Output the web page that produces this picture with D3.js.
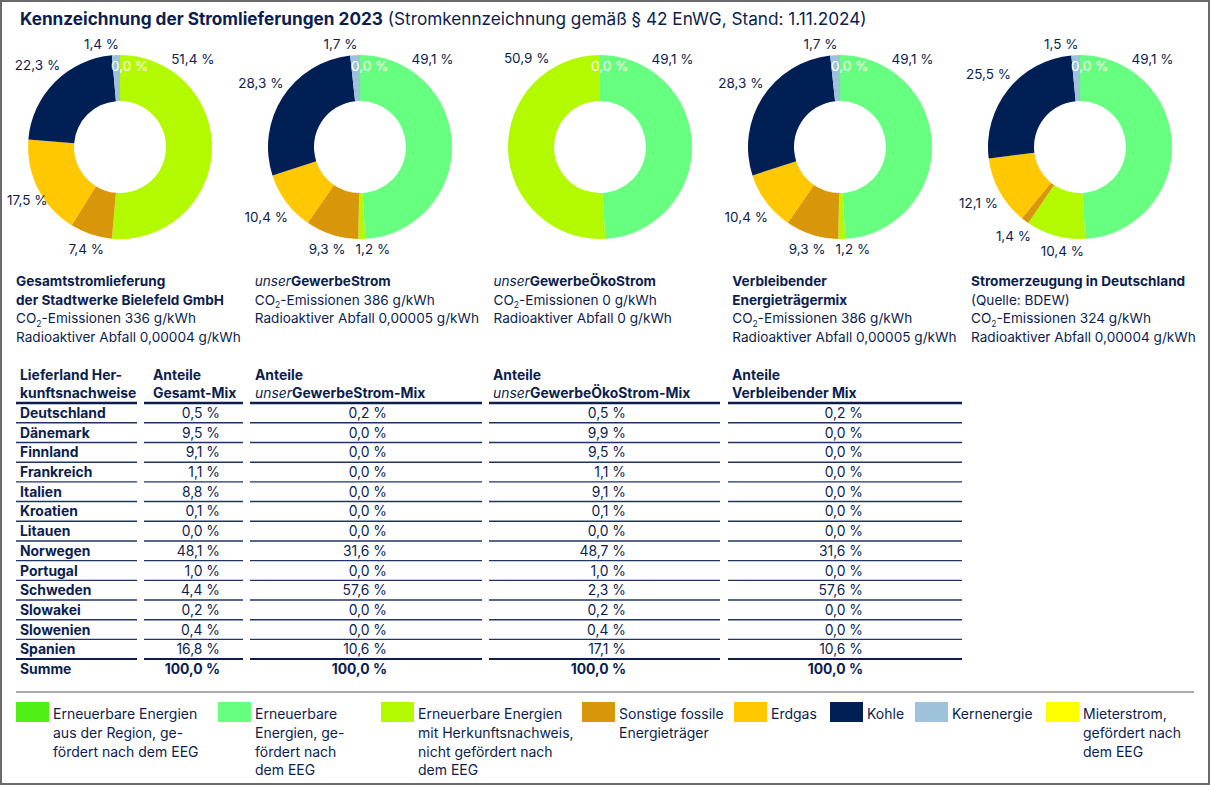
<!DOCTYPE html>
<html><head><meta charset="utf-8">
<script src="https://cdn.jsdelivr.net/npm/d3@7"></script>
<style>
html,body{margin:0;padding:0;background:#fff;}
svg{display:block;font-family:Inter,"Noto Sans",sans-serif;}
</style></head><body>
<svg id="chart" width="1210" height="785"></svg>
<script>
// ---------------- DATA ----------------
const categories = [
  "Erneuerbare Energien aus der Region, gefördert nach dem EEG",
  "Erneuerbare Energien, gefördert nach dem EEG",
  "Erneuerbare Energien mit Herkunftsnachweis, nicht gefördert nach dem EEG",
  "Sonstige fossile Energieträger",
  "Erdgas",
  "Kohle",
  "Kernenergie",
  "Mieterstrom, gefördert nach dem EEG"
];
const categoryColors = ["#50F014","#66FF7F","#B3FA00","#D8960A","#FFC800","#001F55","#9FC2DB","#FFFF00"];
const legendLines = [
  ["Erneuerbare Energien","aus der Region, ge-","fördert nach dem EEG"],
  ["Erneuerbare","Energien, ge-","fördert nach","dem EEG"],
  ["Erneuerbare Energien","mit Herkunftsnachweis,","nicht gefördert nach","dem EEG"],
  ["Sonstige fossile","Energieträger"],
  ["Erdgas"],
  ["Kohle"],
  ["Kernenergie"],
  ["Mieterstrom,","gefördert nach","dem EEG"]
];

// donut values (%), order = categories
const mixGesamt       = [0, 0,    51.4, 7.4, 17.5, 22.3, 1.4, 0];
const mixGewerbe      = [0, 49.1, 1.2,  9.3, 10.4, 28.3, 1.7, 0];
const mixOeko         = [0, 49.1, 50.9, 0,   0,    0,    0,   0];
const mixVerbleibend  = [0, 49.1, 1.2,  9.3, 10.4, 28.3, 1.7, 0];
const mixDeutschland  = [0, 49.1, 10.4, 1.4, 12.1, 25.5, 1.5, 0];
const mixes = [mixGesamt, mixGewerbe, mixOeko, mixVerbleibend, mixDeutschland];

// captions under donuts
const captionHeads = [
  [[{t:"Gesamtstromlieferung",s:"b"}],[{t:"der Stadtwerke Bielefeld GmbH",s:"b"}]],
  [[{t:"unser",s:"i"},{t:"GewerbeStrom",s:"b"}]],
  [[{t:"unser",s:"i"},{t:"GewerbeÖkoStrom",s:"b"}]],
  [[{t:"Verbleibender",s:"b"}],[{t:"Energieträgermix",s:"b"}]],
  [[{t:"Stromerzeugung in Deutschland",s:"b"}],[{t:"(Quelle: BDEW)",s:"r"}]]
];
const co2Emissions = ["336","386","0","386","324"];
const radioactiveWaste = ["0,00004","0,00005","0","0,00005","0,00004"];

// table
const countries = ["Deutschland","Dänemark","Finnland","Frankreich","Italien","Kroatien","Litauen","Norwegen","Portugal","Schweden","Slowakei","Slowenien","Spanien"];
const shareGesamt      = [0.5, 9.5, 9.1, 1.1, 8.8, 0.1, 0.0, 48.1, 1.0, 4.4, 0.2, 0.4, 16.8];
const shareGewerbe     = [0.2, 0.0, 0.0, 0.0, 0.0, 0.0, 0.0, 31.6, 0.0, 57.6, 0.0, 0.0, 10.6];
const shareOeko        = [0.5, 9.9, 9.5, 1.1, 9.1, 0.1, 0.0, 48.7, 1.0, 2.3, 0.2, 0.4, 17.1];
const shareVerbleibend = [0.2, 0.0, 0.0, 0.0, 0.0, 0.0, 0.0, 31.6, 0.0, 57.6, 0.0, 0.0, 10.6];
const shareSums        = [100.0, 100.0, 100.0, 100.0];
const sumLabel = "Summe";
const tableHeads = [
  [[{t:"Lieferland Her-",s:"b"}],[{t:"kunftsnachweise",s:"b"}]],
  [[{t:"Anteile",s:"b"}],[{t:"Gesamt-Mix",s:"b"}]],
  [[{t:"Anteile",s:"b"}],[{t:"unser",s:"i"},{t:"GewerbeStrom-Mix",s:"b"}]],
  [[{t:"Anteile",s:"b"}],[{t:"unser",s:"i"},{t:"GewerbeÖkoStrom-Mix",s:"b"}]],
  [[{t:"Anteile",s:"b"}],[{t:"Verbleibender Mix",s:"b"}]]
];

// ---------------- LAYOUT ----------------
const W = 1210, H = 785;
const NAVY = "#0c1e4e";
const loc = d3.formatLocale({decimal:",", thousands:".", grouping:[3], currency:["","€"]});
const fmt = v => loc.format(".1f")(v) + " %";

const svg = d3.select("#chart");
svg.append("rect").attr("x",1).attr("y",1).attr("width",W-2).attr("height",H-2)
  .attr("fill","#fff").attr("stroke","#6a6a6a").attr("stroke-width",2);

function addSegs(textSel, segs){
  segs.forEach(s=>{
    const t = textSel.append("tspan").text(s.t);
    if (s.s==="b") t.attr("font-weight",700);
    if (s.s==="i") t.attr("font-style","italic");
  });
}

// title
const title = svg.append("text").attr("x",20).attr("y",24.5).attr("fill",NAVY).attr("font-size",17.2);
title.append("tspan").attr("font-weight",700).text("Kennzeichnung der Stromlieferungen 2023");
title.append("tspan").text(" (Stromkennzeichnung gemäß § 42 EnWG, Stand: 1.11.2024)");

// donuts
const donutX = d3.scaleLinear().domain([0,4]).range([120,1080]);
const captionX = d3.scaleLinear().domain([0,4]).range([16,971]);
const cy = 147, rOut = 92, rIn = 46;
const pie = d3.pie().sort(null).value(d=>d.v).startAngle(0).endAngle(2*Math.PI);
const arc = d3.arc().innerRadius(rIn).outerRadius(rOut);

mixes.forEach((mix, mi)=>{
  const cx = donutX(mi);
  const g = svg.append("g").attr("transform",`translate(${cx},${cy})`);
  const arcs = pie(mix.map((v,i)=>({v, i})));
  g.selectAll("path").data(arcs.filter(a=>a.data.v>0)).join("path")
    .attr("d",arc).attr("fill",a=>categoryColors[a.data.i]);
  // labels
  arcs.forEach(a=>{
    const v = a.data.v;
    if (v<=0 && a.data.i!==0) return;
    const t = g.append("text").attr("dy","0.36em")
      .attr("text-anchor","middle").attr("font-size",13.5).text(fmt(v));
    if (v<=0){
      const ang = a.startAngle + 0.12, R = 81;
      t.attr("fill","#ffffff").attr("x",R*Math.sin(ang)).attr("y",-R*Math.cos(ang));
      return;
    }
    let ang = (a.startAngle + a.endAngle)/2;
    if (v >= 40){
      if (a.startAngle < 1e-6) ang = 0.69;
      else if (a.endAngle > 2*Math.PI - 1e-6) ang = 2*Math.PI - 0.69;
    }
    const w = t.node().getComputedTextLength(), h = 12;
    const ux = Math.sin(ang), uy = -Math.cos(ang);
    const d = rOut + 4 + Math.abs(ux)*w/2 + Math.abs(uy)*h/2;
    let x = d*ux, y = d*uy;
    if (v<15){
      if (Math.abs(ux)<0.15 && uy<0) x -= 14;
      if (Math.abs(ux)<0.29 && uy>0) x += 11;
    }
    // keep inside the frame
    if (cx + x - w/2 < 7) x = 7 + w/2 - cx;
    if (cx + x + w/2 > W - 7) x = W - 7 - w/2 - cx;
    t.attr("fill",NAVY).attr("x",x).attr("y",y);
  });

  // caption
  const tx = captionX(mi);
  const lines = captionHeads[mi].map(l=>({segs:l}));
  lines.push({co2:co2Emissions[mi]});
  lines.push({segs:[{t:`Radioaktiver Abfall ${radioactiveWaste[mi]} g/kWh`,s:"r"}]});
  lines.forEach((ln, li)=>{
    const t = svg.append("text").attr("x",tx).attr("y",286 + li*18.7).attr("fill",NAVY).attr("font-size",13.6);
    if (ln.segs) addSegs(t, ln.segs);
    else {
      t.append("tspan").text("CO");
      t.append("tspan").attr("font-size",8.5).attr("dy",3.5).text("2");
      t.append("tspan").attr("dy",-3.5).text(`-Emissionen ${ln.co2} g/kWh`);
    }
  });
});

// table
const cols = [
  {x0:16, x1:137, tx:20},
  {x0:144, x1:243, tx:153, vx:220},
  {x0:250, x1:482, tx:255, vx:387},
  {x0:489, x1:720, tx:493, vx:626},
  {x0:728, x1:962, tx:732, vx:863}
];
const shares = [shareGesamt, shareGewerbe, shareOeko, shareVerbleibend];
const rowNames = countries.concat([sumLabel]);
const rowY = d3.scaleLinear().domain([0,rowNames.length-1]).range([413,669]);
const tbl = svg.append("g").attr("font-size",13.9).attr("fill",NAVY);

tableHeads.forEach((h,ci)=>{
  h.forEach((ln,li)=>{
    const t = tbl.append("text").attr("x",cols[ci].tx).attr("y",380+li*18.3);
    addSegs(t, ln);
  });
  tbl.append("line").attr("x1",cols[ci].x0).attr("x2",cols[ci].x1).attr("y1",403).attr("y2",403)
    .attr("stroke",NAVY).attr("stroke-width",2.4);
});

rowNames.forEach((name,ri)=>{
  const y = rowY(ri);
  const isSum = ri===rowNames.length-1;
  tbl.append("text").attr("x",cols[0].tx).attr("y",y).attr("dy","0.36em").attr("font-weight",700).text(name);
  shares.forEach((arr,si)=>{
    const v = isSum ? shareSums[si] : arr[ri];
    tbl.append("text").attr("x",cols[si+1].vx).attr("y",y).attr("dy","0.36em")
      .attr("text-anchor","end").attr("font-weight",isSum?700:400).text(fmt(v));
  });
  if (!isSum){
    const ly = y + 9.8;
    const last = ri===rowNames.length-2;
    cols.forEach(c=>{
      tbl.append("line").attr("x1",c.x0).attr("x2",c.x1).attr("y1",ly).attr("y2",ly)
        .attr("stroke", last?NAVY:"#1e3366").attr("stroke-width", last?2:1.4);
    });
  }
});

// legend
svg.append("line").attr("x1",16).attr("x2",1194).attr("y1",692).attr("y2",692)
  .attr("stroke","#5a5a5a").attr("stroke-width",1);
const legendX = [16, 218, 381, 582, 734, 830, 915, 1046];
const lg = svg.append("g").attr("font-size",14).attr("fill",NAVY);
categories.forEach((c,i)=>{
  lg.append("rect").attr("x",legendX[i]).attr("y",702).attr("width",33).attr("height",20).attr("fill",categoryColors[i]);
  legendLines[i].forEach((ln,li)=>{
    lg.append("text").attr("x",legendX[i]+37).attr("y",719+li*18.8).text(ln);
  });
});
</script>
</body></html>
